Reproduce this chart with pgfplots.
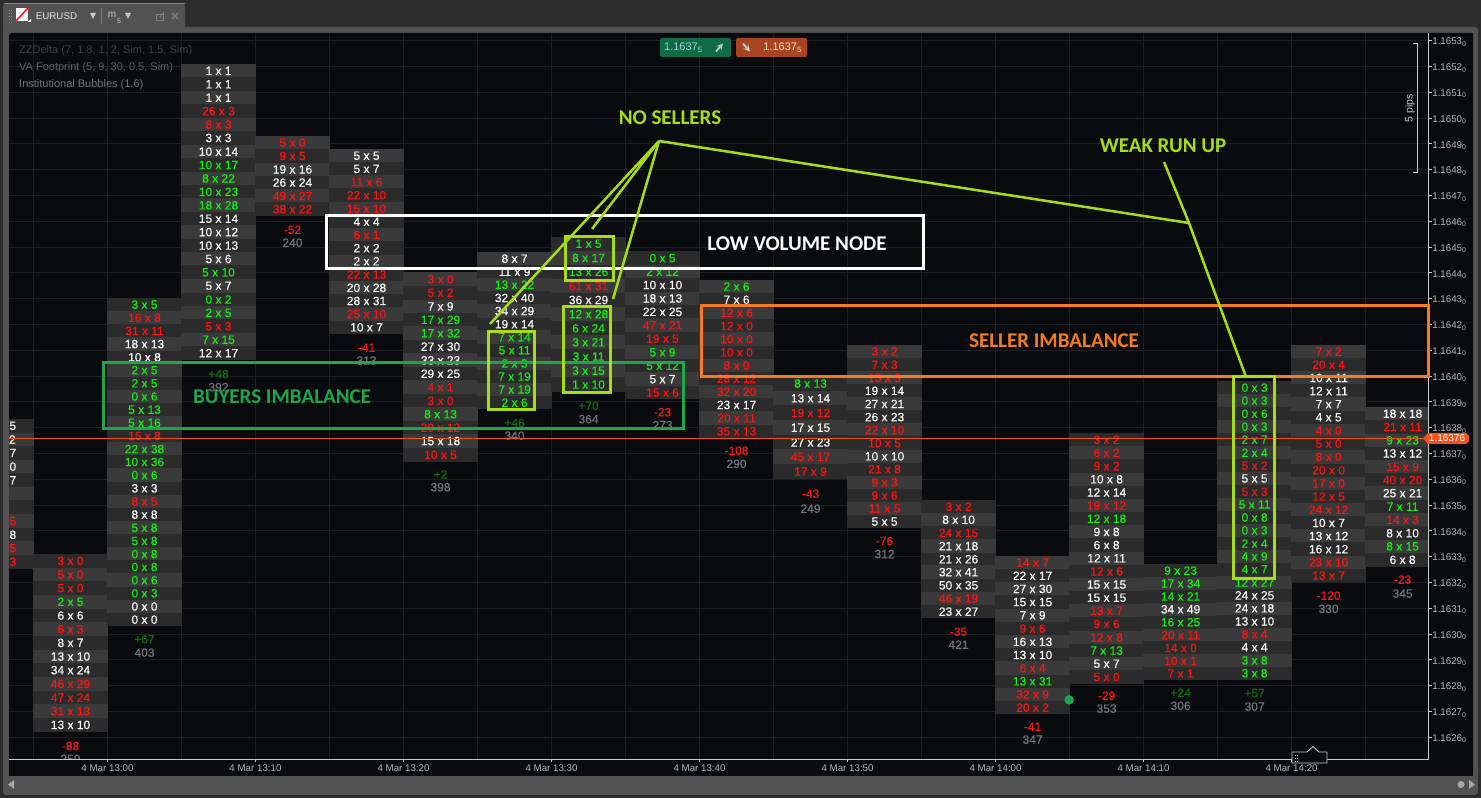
\documentclass[border=0pt]{standalone}
\usepackage{fontspec}
\setmainfont{Liberation Sans}
\newfontfamily\annot{Carlito}
\newfontfamily\rowface{Liberation Sans}[FakeBold=0.25]
\usepackage{pgfplots}
\usepackage{pgfplotstable}
\pgfplotsset{compat=1.18}

\definecolor{outer}{HTML}{2C2C2C}
\definecolor{frame}{HTML}{525252}
\definecolor{panel}{HTML}{0A0B0F}
\definecolor{gridc}{HTML}{1D1F24}
\definecolor{axisc}{HTML}{C9C9C9}
\definecolor{tickt}{HTML}{B0B8C4}
% text colours by code: 0 red, 1 green, 2 white, 3 dark green, 4 grey
\definecolor{ct0}{HTML}{FF1414}
\definecolor{ct1}{HTML}{14F014}
\definecolor{ct2}{HTML}{FFFFFF}
\definecolor{ct3}{HTML}{0E700E}
\definecolor{ct4}{HTML}{72767B}
% row colours by code: 0 dark, 1 light
\definecolor{cb0}{HTML}{2B2B2B}
\definecolor{cb1}{HTML}{3A3A3A}
\definecolor{lime}{HTML}{A8DC14}
\definecolor{orng}{HTML}{F47B20}
\definecolor{grn}{HTML}{1FA64A}
\definecolor{pline}{HTML}{F0541E}
\definecolor{buyb}{HTML}{0E6B45}
\definecolor{sellb}{HTML}{A8441F}

\newcommand\rowfont{\rowface\fontsize{12}{14}\selectfont}
\newcommand\tickfont{\fontsize{9.75}{12}\selectfont}
\newcommand\annotfont{\annot\bfseries\fontsize{21}{24}\selectfont}
\newcommand\pl[1]{1.16#1\textsubscript{0}}

% y is the price in pips above 1.1600, so 37.6 is 1.16376
% each bar: minutes after 13:00, row centre, bid, ask, text colour, row colour
\pgfplotstableread{
t y bid ask tc bc
-7.5 38.07 14 15 2 0
-7.5 37.54 11 12 2 1
-7.5 37.02 13 17 2 0
-7.5 36.49 10 10 2 1
-7.5 35.96 13 17 2 0
-7.5 35.44 5 3 0 1
-7.5 34.91 7 6 2 0
-7.5 34.38 30 15 0 1
-7.5 33.85 14 18 2 0
-7.5 33.33 29 15 0 1
-7.5 32.80 38 13 0 0
}\barA
\pgfplotstableread{
t y bid ask tc bc
-2.5 32.84 3 0 0 0
-2.5 32.31 5 0 0 1
-2.5 31.78 5 0 0 0
-2.5 31.25 2 5 1 1
-2.5 30.72 6 6 2 0
-2.5 30.19 6 3 0 1
-2.5 29.66 8 7 2 0
-2.5 29.13 13 10 2 1
-2.5 28.60 34 24 2 0
-2.5 28.07 46 29 0 1
-2.5 27.54 47 24 0 0
-2.5 27.01 31 13 0 1
-2.5 26.48 13 10 2 0
}\barB
\pgfplotstableread{
t y bid ask tc bc
2.5 42.77 3 5 1 0
2.5 42.26 16 8 0 1
2.5 41.75 31 11 0 0
2.5 41.24 18 13 2 1
2.5 40.73 10 8 2 0
2.5 40.23 2 5 1 1
2.5 39.72 2 5 1 0
2.5 39.21 0 6 1 1
2.5 38.70 5 13 1 0
2.5 38.19 5 16 1 1
2.5 37.68 15 8 0 0
2.5 37.17 22 38 1 1
2.5 36.67 10 36 1 0
2.5 36.16 0 6 1 1
2.5 35.65 3 3 2 0
2.5 35.14 8 5 0 1
2.5 34.63 8 8 2 0
2.5 34.12 5 8 1 1
2.5 33.61 5 8 1 0
2.5 33.10 0 8 1 1
2.5 32.60 0 8 1 0
2.5 32.09 0 6 1 1
2.5 31.58 0 3 1 0
2.5 31.07 0 0 2 1
2.5 30.56 0 0 2 0
}\barC
\pgfplotstableread{
t y bid ask tc bc
7.5 51.83 1 1 2 1
7.5 51.31 1 1 2 0
7.5 50.79 1 1 2 1
7.5 50.27 26 3 0 0
7.5 49.75 8 3 0 1
7.5 49.23 3 3 2 0
7.5 48.70 10 14 2 1
7.5 48.18 10 17 1 0
7.5 47.66 8 22 1 1
7.5 47.14 10 23 1 0
7.5 46.62 18 28 1 1
7.5 46.10 15 14 2 0
7.5 45.58 10 12 2 1
7.5 45.06 10 13 2 0
7.5 44.54 5 6 2 1
7.5 44.02 5 10 1 0
7.5 43.50 5 7 2 1
7.5 42.97 0 2 1 0
7.5 42.45 2 5 1 1
7.5 41.93 5 3 0 0
7.5 41.41 7 15 1 1
7.5 40.89 12 17 2 0
}\barD
\pgfplotstableread{
t y bid ask tc bc
12.5 49.05 5 0 0 1
12.5 48.53 9 5 0 0
12.5 48.01 19 16 2 1
12.5 47.50 26 24 2 0
12.5 46.98 49 27 0 1
12.5 46.47 38 22 0 0
}\barE
\pgfplotstableread{
t y bid ask tc bc
17.5 48.54 5 5 2 1
17.5 48.03 5 7 2 0
17.5 47.52 11 6 0 1
17.5 47.01 22 10 0 0
17.5 46.49 15 10 0 1
17.5 45.98 4 4 2 0
17.5 45.47 6 1 0 1
17.5 44.96 2 2 2 0
17.5 44.45 2 2 2 1
17.5 43.94 22 13 0 0
17.5 43.42 20 28 2 1
17.5 42.91 28 31 2 0
17.5 42.40 25 10 0 1
17.5 41.89 10 7 2 0
}\barF
\pgfplotstableread{
t y bid ask tc bc
22.5 43.75 3 0 0 1
22.5 43.23 5 2 0 0
22.5 42.70 7 9 2 1
22.5 42.18 17 29 1 0
22.5 41.66 17 32 1 1
22.5 41.14 27 30 2 0
22.5 40.61 33 23 2 1
22.5 40.09 29 25 2 0
22.5 39.57 4 1 0 1
22.5 39.04 3 0 0 0
22.5 38.52 8 13 1 1
22.5 38.00 20 12 0 0
22.5 37.48 15 18 2 1
22.5 36.95 10 5 0 0
}\barG
\pgfplotstableread{
t y bid ask tc bc
27.5 44.55 8 7 2 1
27.5 44.04 11 9 2 0
27.5 43.54 13 22 1 1
27.5 43.03 32 40 2 0
27.5 42.52 34 29 2 1
27.5 42.01 19 14 2 0
27.5 41.51 7 14 1 1
27.5 41.00 5 11 1 0
27.5 40.49 2 3 1 1
27.5 39.98 7 19 1 0
27.5 39.48 7 19 1 1
27.5 38.97 2 6 1 0
}\barH
\pgfplotstableread{
t y bid ask tc bc
32.5 45.13 1 5 1 0
32.5 44.58 8 17 1 1
32.5 44.04 13 26 1 0
32.5 43.49 61 31 0 1
32.5 42.95 36 29 2 0
32.5 42.40 12 28 1 1
32.5 41.85 6 24 1 0
32.5 41.31 3 21 1 1
32.5 40.76 3 11 1 0
32.5 40.21 3 15 1 1
32.5 39.67 1 10 1 0
}\barI
\pgfplotstableread{
t y bid ask tc bc
37.5 44.57 0 5 1 0
37.5 44.05 2 12 1 1
37.5 43.53 10 10 2 0
37.5 43.01 18 13 2 1
37.5 42.49 22 25 2 0
37.5 41.97 47 21 0 1
37.5 41.45 19 5 0 0
37.5 40.92 5 9 1 1
37.5 40.40 5 12 1 0
37.5 39.88 5 7 2 1
37.5 39.36 15 6 0 0
}\barJ
\pgfplotstableread{
t y bid ask tc bc
42.5 43.47 2 6 1 1
42.5 42.96 7 6 2 0
42.5 42.45 12 6 0 1
42.5 41.94 12 0 0 0
42.5 41.43 10 0 0 1
42.5 40.92 10 0 0 0
42.5 40.41 8 0 0 1
42.5 39.90 28 12 0 0
42.5 39.39 32 20 0 1
42.5 38.88 23 17 2 0
42.5 38.37 20 11 0 1
42.5 37.86 35 13 0 0
}\barK
\pgfplotstableread{
t y bid ask tc bc
47.5 39.71 8 13 1 0
47.5 39.14 13 14 2 1
47.5 38.57 19 12 0 0
47.5 38.00 17 15 2 1
47.5 37.43 27 23 2 0
47.5 36.87 45 17 0 1
47.5 36.30 17 9 0 0
}\barL
\pgfplotstableread{
t y bid ask tc bc
52.5 40.95 3 2 0 1
52.5 40.44 7 3 0 0
52.5 39.93 15 3 0 1
52.5 39.43 19 14 2 0
52.5 38.92 27 21 2 1
52.5 38.41 26 23 2 0
52.5 37.91 22 10 0 1
52.5 37.40 10 5 0 0
52.5 36.89 10 10 2 1
52.5 36.39 21 8 0 0
52.5 35.88 9 3 0 1
52.5 35.37 9 6 0 0
52.5 34.87 11 5 0 1
52.5 34.36 5 5 2 0
}\barM
\pgfplotstableread{
t y bid ask tc bc
57.5 34.94 3 2 0 0
57.5 34.43 8 10 2 1
57.5 33.92 24 15 0 0
57.5 33.41 21 18 2 1
57.5 32.90 21 26 2 0
57.5 32.40 32 41 2 1
57.5 31.89 50 35 2 0
57.5 31.38 46 19 0 1
57.5 30.87 23 27 2 0
}\barN
\pgfplotstableread{
t y bid ask tc bc
62.5 32.77 14 7 0 1
62.5 32.26 22 17 2 0
62.5 31.75 27 30 2 1
62.5 31.24 15 15 2 0
62.5 30.73 7 9 2 1
62.5 30.21 9 6 0 0
62.5 29.70 16 13 2 1
62.5 29.19 13 10 2 0
62.5 28.68 6 4 0 1
62.5 28.17 13 31 1 0
62.5 27.66 32 9 0 1
62.5 27.15 20 2 0 0
}\barO
\pgfplotstableread{
t y bid ask tc bc
67.5 37.53 3 2 0 0
67.5 37.02 6 2 0 1
67.5 36.51 9 2 0 0
67.5 36.00 10 8 2 1
67.5 35.49 12 14 2 0
67.5 34.98 19 12 0 1
67.5 34.47 12 18 1 0
67.5 33.96 9 8 2 1
67.5 33.45 6 8 2 0
67.5 32.94 12 11 2 1
67.5 32.43 12 6 0 0
67.5 31.92 15 15 2 1
67.5 31.41 15 15 2 0
67.5 30.90 13 7 0 1
67.5 30.39 9 6 0 0
67.5 29.87 12 8 0 1
67.5 29.36 7 13 1 0
67.5 28.85 5 7 2 1
67.5 28.34 5 0 0 0
}\barP
\pgfplotstableread{
t y bid ask tc bc
72.5 32.46 9 23 1 0
72.5 31.96 17 34 1 1
72.5 31.46 14 21 1 0
72.5 30.96 34 49 2 1
72.5 30.46 16 25 1 0
72.5 29.96 20 11 0 1
72.5 29.46 14 0 0 0
72.5 28.96 10 1 0 1
72.5 28.47 7 1 0 0
}\barQ
\pgfplotstableread{
t y bid ask tc bc
77.5 39.55 0 3 1 0
77.5 39.05 0 3 1 1
77.5 38.54 0 6 1 0
77.5 38.04 0 3 1 1
77.5 37.54 2 7 1 0
77.5 37.03 2 4 1 1
77.5 36.53 5 2 0 0
77.5 36.03 5 5 2 1
77.5 35.52 5 3 0 0
77.5 35.02 5 11 1 1
77.5 34.52 0 8 1 0
77.5 34.02 0 3 1 1
77.5 33.51 2 4 1 0
77.5 33.01 4 9 1 1
77.5 32.51 4 7 1 0
77.5 32.00 12 27 1 1
77.5 31.50 24 25 2 0
77.5 31.00 24 18 2 1
77.5 30.49 13 10 2 0
77.5 29.99 8 4 0 1
77.5 29.49 4 4 2 0
77.5 28.98 3 8 1 1
77.5 28.48 3 8 1 0
}\barR
\pgfplotstableread{
t y bid ask tc bc
82.5 40.95 7 2 0 1
82.5 40.44 20 4 0 0
82.5 39.93 10 11 2 1
82.5 39.42 12 11 2 0
82.5 38.91 7 7 2 1
82.5 38.40 4 5 2 0
82.5 37.89 4 0 0 1
82.5 37.38 5 0 0 0
82.5 36.87 8 0 0 1
82.5 36.35 20 0 0 0
82.5 35.84 17 0 0 1
82.5 35.33 12 5 0 0
82.5 34.82 24 12 0 1
82.5 34.31 10 7 2 0
82.5 33.80 13 12 2 1
82.5 33.29 16 12 2 0
82.5 32.78 23 10 0 1
82.5 32.27 13 7 0 0
}\barS
\pgfplotstableread{
t y bid ask tc bc
87.5 38.54 18 18 2 1
87.5 38.03 21 11 0 0
87.5 37.51 9 23 1 1
87.5 37.00 13 12 2 0
87.5 36.48 15 9 0 1
87.5 35.97 40 20 0 0
87.5 35.46 25 21 2 1
87.5 34.94 7 11 1 0
87.5 34.43 14 3 0 1
87.5 33.91 8 10 2 0
87.5 33.40 8 15 1 1
87.5 32.88 6 8 2 0
}\barT

% delta and volume printed under each bar
\pgfplotstableread{
t y lbl tc
-2.5 25.66 -88 0
-2.5 25.16 259 4
2.5 29.80 +67 3
2.5 29.28 403 4
7.5 40.08 +48 3
7.5 39.57 392 4
12.5 45.67 -52 0
12.5 45.17 240 4
17.5 41.10 -41 0
17.5 40.60 313 4
22.5 36.19 +2 3
22.5 35.69 398 4
27.5 38.19 +46 3
27.5 37.69 340 4
32.5 38.85 +70 3
32.5 38.33 364 4
37.5 38.60 -23 0
37.5 38.10 273 4
42.5 37.11 -108 0
42.5 36.60 290 4
47.5 35.44 -43 0
47.5 34.86 249 4
52.5 33.61 -76 0
52.5 33.10 312 4
57.5 30.09 -35 0
57.5 29.59 421 4
62.5 26.41 -41 0
62.5 25.91 347 4
67.5 27.61 -29 0
67.5 27.11 353 4
72.5 27.73 +24 3
72.5 27.22 306 4
77.5 27.71 +57 3
77.5 27.19 307 4
82.5 31.49 -120 0
82.5 30.98 330 4
87.5 32.11 -23 0
87.5 31.57 345 4
}\footers

\pgfplotsset{
  footrow/.style={
    only marks, mark=none, forget plot,
    visualization depends on={\thisrow{bid}\as\bidv},
    visualization depends on={\thisrow{ask}\as\askv},
    visualization depends on={\thisrow{tc}\as\tcv},
    visualization depends on={\thisrow{bc}\as\bcv},
    nodes near coords={\pgfmathtruncatemacro\bidi{\bidv}\pgfmathtruncatemacro\aski{\askv}\bidi{} x \aski},
    nodes near coords style={anchor=center, inner sep=0pt, outer sep=0pt,
      /utils/exec={\pgfmathtruncatemacro\tci{\tcv}\pgfmathtruncatemacro\bci{\bcv}},
      minimum width=74.3pt, minimum height=#1pt, fill=cb\bci, text=ct\tci, font=\rowfont},
  },
  chartbox/.style={
    scale only axis, width=1419.7pt, height=726.3pt,
    at={(9pt,38.7pt)}, anchor=south west,
    xmin=-6.655, xmax=89.26, ymin=25.147, ymax=53.298,
  },
}
\newcommand\footbar[2]{\addplot[footrow=#1] table[x=t, y=y] {#2};}

\begin{document}
\begin{tikzpicture}[x=1pt,y=1pt]
\useasboundingbox (0,0) rectangle (1481,798);

% window behind the chart, in image pixels from the top
\begin{scope}[shift={(0,798)},yscale=-1]
  \fill[outer] (0,0) rectangle (1481,798);
  \fill[frame,rounded corners=3] (3,27) rectangle (1478,795);
  \fill[frame,rounded corners=3] (3,3) -- (185,3) -- (185,30) -- (3,30) -- cycle;
  \fill[panel,rounded corners=3] (9,33) rectangle (1473,776);
\end{scope}

% grid and footprint rows
% this axis starts left of the window so that the cut-off first bar is still plotted
\begin{axis}[chartbox,
    xmin=-12, width=1498.8pt, at={(-70.1pt,38.7pt)},
    axis line style={draw=none}, tick style={draw=none},
    xtick={-5,0,...,85}, ytick={26,27,...,53},
    xticklabel=\empty, yticklabel=\empty,
    grid=major, grid style={gridc,line width=0.9pt},
  ]
  \footbar{13.9}{\barA}
  \footbar{13.97}{\barB}
  \footbar{13.43}{\barC}
  \footbar{13.74}{\barD}
  \footbar{13.63}{\barE}
  \footbar{13.5}{\barF}
  \footbar{13.79}{\barG}
  \footbar{13.39}{\barH}
  \footbar{14.4}{\barI}
  \footbar{13.74}{\barJ}
  \footbar{13.45}{\barK}
  \footbar{14.97}{\barL}
  \footbar{13.38}{\barM}
  \footbar{13.43}{\barN}
  \footbar{13.48}{\barO}
  \footbar{13.47}{\barP}
  \footbar{13.18}{\barQ}
  \footbar{13.28}{\barR}
  \footbar{13.48}{\barS}
  \footbar{13.57}{\barT}
  \addplot[only marks, mark=none, forget plot,
    point meta=explicit symbolic,
    visualization depends on={\thisrow{tc}\as\tcv},
    nodes near coords,
    nodes near coords style={anchor=center, inner sep=0pt,
      /utils/exec={\pgfmathtruncatemacro\tci{\tcv}},
      text=ct\tci, font=\rowfont},
  ] table[x=t, y=y, meta=lbl] {\footers};
\end{axis}

% what sticks out of the plot area is covered here
\begin{scope}[shift={(0,798)},yscale=-1]
  \fill[outer] (0,27) rectangle (3,798);
  \fill[frame] (3,33) rectangle (9,776);
  \fill[panel] (9,759.7) rectangle (1473,776);
  \fill[panel] (1429,33) rectangle (1473,776);
\end{scope}

% price line, bubble, axis lines, ticks and their labels
\begin{axis}[chartbox,
    axis x line*=bottom, axis y line*=right,
    axis line style={axisc,line width=1pt},
    tick style={axisc,line width=1pt},
    tick align=outside, major tick length=3pt,
    xtick={0,10,...,80},
    xticklabels={4 Mar 13:00,4 Mar 13:10,4 Mar 13:20,4 Mar 13:30,4 Mar 13:40,4 Mar 13:50,4 Mar 14:00,4 Mar 14:10,4 Mar 14:20},
    ytick={26,27,...,53},
    yticklabels={\pl{26},\pl{27},\pl{28},\pl{29},\pl{30},\pl{31},\pl{32},\pl{33},\pl{34},\pl{35},\pl{36},\pl{37},\pl{38},\pl{39},\pl{40},\pl{41},\pl{42},\pl{43},\pl{44},\pl{45},\pl{46},\pl{47},\pl{48},\pl{49},\pl{50},\pl{51},\pl{52},\pl{53}},
    xticklabel style={font=\tickfont,text=tickt,inner sep=0pt,yshift=-2pt},
    yticklabel style={font=\tickfont,text=tickt,inner sep=0pt,xshift=0.5pt,yshift=-1.5pt},
  ]
  \addplot[pline, line width=1pt, forget plot]
    coordinates {(-6.655,37.6) (89.26,37.6)};
  \addplot[only marks, mark=*, mark size=4.5pt, color=grn, forget plot]
    coordinates {(64.97,27.45)};
\end{axis}

% annotations and window controls, in image pixels from the top
\begin{scope}[shift={(0,798)},yscale=-1]
  \draw[white,line width=3pt] (326,216) rectangle (923,269);
  \draw[orng,line width=3pt] (701,306) rectangle (1428,377);
  \draw[grn,line width=3pt] (103,363) rectangle (683,429);
  \begin{scope}[lime,line width=3pt]
    \draw (488,332) rectangle (534,410);
    \draw (565,237) rectangle (613,281);
    \draw (563,307) rectangle (610,393);
    \draw (1233,377) rectangle (1274,579);
  \end{scope}
  \begin{scope}[lime,line width=2.5pt]
    \draw (490,324) -- (659,141) -- (592,229);
    \draw (613,299) -- (659,141);
    \draw (659,141) -- (1189,223) -- (1246,377);
    \draw (1164,162) -- (1189,223);
  \end{scope}
  \node[text=white,font=\annotfont] at (797,244) {LOW VOLUME NODE};
  \node[text=orng,font=\annotfont] at (1054,341) {SELLER IMBALANCE};
  \node[text=grn,font=\annotfont] at (282,397) {BUYERS IMBALANCE};
  \node[text=lime,font=\annotfont] at (670,118) {NO SELLERS};
  \node[text=lime,font=\annotfont] at (1163,146) {WEAK RUN UP};

  % study names
  \begin{scope}[font=\fontsize{11}{13}\selectfont]
    \node[anchor=west,inner sep=0pt,text=gridc!85!white] at (19,51) {ZZDelta (7, 1.8, 1, 2, Sim, 1.5, Sim)};
    \node[anchor=west,inner sep=0pt,text=ct4!115] at (19,68) {VA Footprint (5, 9, 30, 0.5, Sim)};
    \node[anchor=west,inner sep=0pt,text=ct4] at (19,85) {Institutional Bubbles (1.6)};
  \end{scope}

  % buy and sell buttons
  \fill[buyb,rounded corners=2] (660,38) rectangle (731,57);
  \fill[sellb,rounded corners=2] (736,38) rectangle (807,57);
  \node[anchor=west,inner sep=0pt,text=white!65!teal,font=\fontsize{11}{13}\selectfont] at (664,47.5) {1.1637\textsubscript{5}};
  \node[anchor=east,inner sep=0pt,text=white!75!orange,font=\fontsize{11}{13}\selectfont] at (802,47.5) {1.1637\textsubscript{5}};
  \draw[white!80!black,line width=1.8pt,-stealth] (716,51.5) -- (723,43.5);
  \draw[white!80!black,line width=1.8pt,-stealth] (743,43.5) -- (750,51.5);

  % 5 pips ruler
  \draw[axisc,line width=0.9pt] (1413,43) -- (1417.5,43) -- (1417.5,172) -- (1413,172);
  \node[rotate=90,text=axisc,inner sep=0pt,font=\fontsize{10.5}{12}\selectfont] at (1410,108) {5 pips};

  % last price tag
  \fill[pline] (1423,438.5) -- (1428,433) -- (1466,433) -- (1469,436) -- (1469,441) -- (1466,444) -- (1428,444) -- cycle;
  \node[text=white!90!orange,inner sep=0pt,font=\fontsize{10}{12}\selectfont] at (1447,438.5) {1.16376};

  % scroll handle
  \draw[axisc,line width=0.9pt,fill=panel] (1292,752) -- (1307,752) -- (1313,746.5) -- (1319,752) -- (1327,752) -- (1327,763) -- (1292,763) -- cycle;
  \foreach \yy in {755,758,761} {\fill[axisc] (1294.5,\yy) rectangle (1295.5,\yy+1); \fill[axisc] (1297,\yy) rectangle (1298,\yy+1);}

  % scroll band
  \fill[gray!70] (14,780) -- (14,789) -- (8,784.5) -- cycle;
  \fill[gray!70] (1461,784.5) circle (3.5);
  \fill[gray!70] (1469,780) -- (1469,789) -- (1475,784.5) -- cycle;

  % tab
  \fill[frame!70!white] (4,3.5) rectangle (185,4.2);
  \foreach \yy in {10,13,16,19,22} {\fill[gray] (8.5,\yy) rectangle (9.5,\yy+1); \fill[gray] (11,\yy) rectangle (12,\yy+1);}
  \fill[white] (16,8) rectangle (28,21);
  \draw[ct0,line width=1.6pt] (16,21) -- (28,8);
  \fill[white] (28,22) -- (31,22) -- (31,19) -- cycle;
  \node[text=white!90!black,inner sep=0pt,font=\fontsize{9.75}{12}\selectfont] at (56.5,16) {EURUSD};
  \fill[axisc] (90,13) -- (96,13) -- (93,19) -- cycle;
  \draw[gray] (101,8) -- (101,24);
  \node[text=axisc,inner sep=0pt,font=\fontsize{10}{12}\selectfont] at (112,15) {m};
  \node[text=axisc,inner sep=0pt,font=\fontsize{7}{8}\selectfont] at (119,21) {5};
  \fill[axisc] (125,13) -- (131,13) -- (128,19) -- cycle;
  \draw[gray,line width=0.9pt] (156,14) rectangle (163,20);
  \draw[gray,line width=0.9pt] (160,17) -- (164,12.5);
  \draw[gray,line width=1.2pt] (172,13) -- (178,19) (178,13) -- (172,19);
\end{scope}

\end{tikzpicture}
\end{document}
